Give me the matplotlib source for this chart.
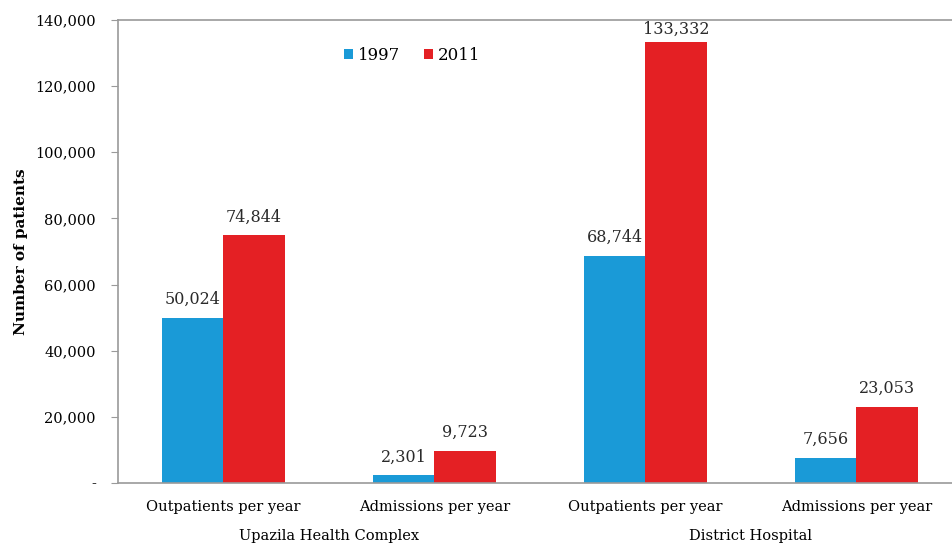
#!/usr/bin/env python3
"""Patients per year, Upazila Health Complex vs District Hospital, 1997 vs 2011."""
import matplotlib

matplotlib.use("Agg")
import matplotlib.pyplot as plt
import numpy as np
from matplotlib.ticker import FuncFormatter

categories = ["Outpatients per year", "Admissions per year",
              "Outpatients per year", "Admissions per year"]
groups = ["Upazila Health Complex", "District Hospital"]
years = ["1997", "2011"]
values_1997 = [50024, 2301, 68744, 7656]
values_2011 = [74844, 9723, 133332, 23053]

BLUE = "#1a9ad7"
RED = "#e42024"
GRID = "#9a9a9a"

plt.rcParams["font.family"] = ["DejaVu Serif"]

W, H = 953, 545
fig = plt.figure(figsize=(W / 100, H / 100), dpi=100)
left, right, top, bottom = 118, 962, 20, 483
ax = fig.add_axes([left / W, 1 - bottom / H, (right - left) / W, (bottom - top) / H])

x = np.arange(len(categories))
width = 0.29
b1 = ax.bar(x - width / 2, values_1997, width, color=BLUE, label=years[0])
b2 = ax.bar(x + width / 2, values_2011, width, color=RED, label=years[1])

for bars in (b1, b2):
    for rect in bars:
        v = rect.get_height()
        # the tallest label sits tighter against the top border, as in Excel
        off = 3 if v > 120000 else 7
        ax.annotate(f"{v:,.0f}", (rect.get_x() + rect.get_width() / 2, v),
                    xytext=(0, off), textcoords="offset points",
                    ha="center", va="bottom", fontsize=11.5, color="#2a2a2a")

ax.set_xlim(-0.5, len(categories) - 0.5)
ax.set_ylim(0, 140000)
ax.set_yticks(np.arange(0, 140001, 20000))
ax.yaxis.set_major_formatter(FuncFormatter(lambda v, _: "-" if v == 0 else f"{v:,.0f}"))
ax.set_xticks(x)
ax.set_xticklabels(categories, fontsize=10.5)
ax.tick_params(axis="x", length=0, pad=12)
ax.tick_params(axis="y", labelsize=10.5, length=5, color=GRID, pad=11)

for side in ("left", "bottom", "top"):
    ax.spines[side].set_color(GRID)
    ax.spines[side].set_linewidth(1.2)
ax.spines["right"].set_visible(False)

ax.set_ylabel("Number of patients", fontsize=11, fontweight="bold", labelpad=5)

for i, g in enumerate(groups):
    ax.text(2 * i + 0.5, -0.1, g, transform=ax.get_xaxis_transform(),
            ha="center", va="top", fontsize=10.5)

ax.legend(loc="upper left", bbox_to_anchor=(0.25, 0.975), ncol=2, frameon=False,
          fontsize=12, handlelength=0.55, handleheight=0.55, handletextpad=0.3,
          columnspacing=1.4)

fig.savefig("out.png", dpi=100)
